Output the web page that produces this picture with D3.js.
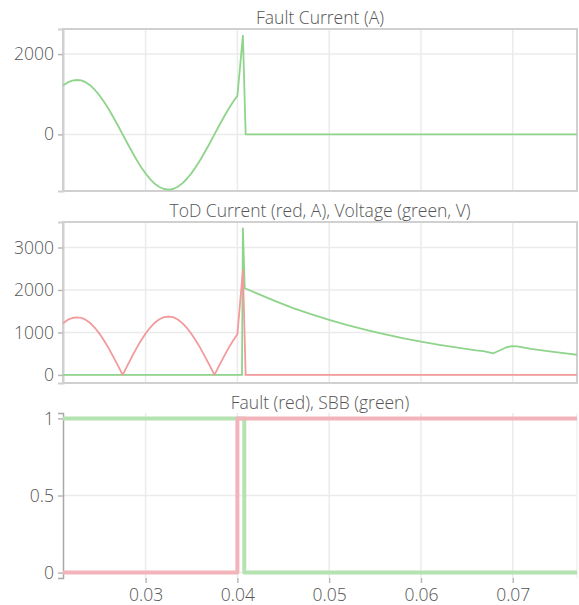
<!DOCTYPE html>
<html>
<head>
<meta charset="utf-8">
<script src="https://cdn.jsdelivr.net/npm/d3@7"></script>
<style>
  html, body { margin: 0; padding: 0; background: #fff; }
  svg { display: block; }
  text { font-family: "Open Sans", Lato, sans-serif; font-weight: 300; fill: #555; }
</style>
</head>
<body>
<svg id="chart" width="579" height="605"></svg>
<script>
// Time base (s) for the fault-current waveform and its rectified ToD copy
const waveTime = [
  0.0210, 0.0215, 0.0220, 0.0225, 0.0230, 0.0235, 0.0240, 0.0245, 0.0250, 0.0255,
  0.0260, 0.0265, 0.0270, 0.0275, 0.0280, 0.0285, 0.0290, 0.0295, 0.0300, 0.0305,
  0.0310, 0.0315, 0.0320, 0.0325, 0.0330, 0.0335, 0.0340, 0.0345, 0.0350, 0.0355,
  0.0360, 0.0365, 0.0370, 0.0375, 0.0380, 0.0385, 0.0390, 0.0395, 0.0400,
  0.0406, 0.0409, 0.0770
];
// Fault current (A)
const faultCurrent = [
  1215, 1295, 1340, 1355, 1345, 1295, 1215, 1100, 965, 800,
  620, 420, 215, 0, -215, -425, -625, -810, -975, -1115,
  -1230, -1310, -1360, -1375, -1360, -1305, -1220, -1105, -965, -800,
  -620, -420, -215, 0, 215, 420, 620, 800, 960,
  2460, 0, 0
];
// ToD current (A)
const todCurrent = [
  1215, 1295, 1340, 1355, 1345, 1295, 1215, 1100, 965, 800,
  620, 420, 215, 0, 215, 425, 625, 810, 975, 1115,
  1230, 1310, 1360, 1375, 1360, 1305, 1220, 1105, 965, 800,
  620, 420, 215, 0, 215, 420, 620, 800, 960,
  2460, 0, 0
];
// ToD voltage (V)
const voltTime = [
  0.0210, 0.0405, 0.0406, 0.0408, 0.0420, 0.0440, 0.0460, 0.0480, 0.0500, 0.0520,
  0.0540, 0.0560, 0.0580, 0.0600, 0.0620, 0.0640, 0.0660, 0.0668, 0.0679, 0.0692,
  0.0699, 0.0705, 0.0720, 0.0740, 0.0760, 0.0770
];
const voltage = [
  0, 0, 3450, 2040, 1930, 1750, 1580, 1430, 1295, 1170,
  1060, 960, 865, 785, 710, 642, 580, 560, 510, 640,
  680, 672, 612, 555, 502, 475
];
// Fault flag and SBB status (0/1)
const faultFlagTime = [0.0210, 0.0400, 0.0770];
const faultFlag = [0, 1, 1];
const sbbTime = [0.0210, 0.04075, 0.0770];
const sbb = [1, 0, 0];

// Axis ticks and titles
const xTicks = [0.03, 0.04, 0.05, 0.06, 0.07];
const ticksTop = [0, 2000];
const ticksMid = [0, 1000, 2000, 3000];
const ticksBottom = [0, 0.5, 1];
const titles = ["Fault Current (A)", "ToD Current (red, A), Voltage (green, V)", "Fault (red), SBB (green)"];

const GREEN = "#8fd48b";
const RED = "#f29a9c";
const GRID = "#ebebeb";
const FRAME = "#d0d0d0";
const FONT = 17.5;

const svg = d3.select("#chart");
const left = 63, right = 577;
const x = d3.scaleLinear().domain([0.021, 0.077]).range([left, right]);

const panels = [
  { top: 29, bottom: 191, domain: [-1410, 2625], ticks: ticksTop, title: titles[0], titleY: 24, frame: true },
  { top: 222, bottom: 383, domain: [-190, 3600], ticks: ticksMid, title: titles[1], titleY: 217, frame: true },
  { top: 413, bottom: 578, domain: [-0.035, 1.035], ticks: ticksBottom, title: titles[2], titleY: 409, frame: false }
];
panels.forEach(p => {
  p.y = d3.scaleLinear().domain(p.domain).range([p.bottom, p.top]);
  p.g = svg.append("g");
  // grid
  p.g.append("g").selectAll("line").data(xTicks).join("line")
    .attr("x1", d => x(d)).attr("x2", d => x(d))
    .attr("y1", p.top).attr("y2", p.bottom)
    .attr("stroke", GRID).attr("stroke-width", 1.5);
  p.g.append("g").selectAll("line").data(p.ticks).join("line")
    .attr("x1", left).attr("x2", right)
    .attr("y1", d => p.y(d)).attr("y2", d => p.y(d))
    .attr("stroke", GRID).attr("stroke-width", 1.5);
  if (p.frame) {
    p.g.append("rect").attr("x", left).attr("y", p.top)
      .attr("width", right - left).attr("height", p.bottom - p.top)
      .attr("fill", "none").attr("stroke", FRAME).attr("stroke-width", 2);
  } else {
    p.g.append("line").attr("x1", right).attr("x2", right)
      .attr("y1", p.top).attr("y2", p.bottom)
      .attr("stroke", "#f0f0f0").attr("stroke-width", 1.5);
  }
  // y axis
  const ax = p.g.append("g").attr("transform", `translate(${left},0)`)
    .call(d3.axisLeft(p.y).tickValues(p.ticks).tickSize(5).tickPadding(4).tickFormat(d => String(d)));
  ax.select(".domain").attr("stroke", p.frame ? FRAME : "#a8a8a8").attr("stroke-width", p.frame ? 2 : 1.5);
  ax.selectAll(".tick line").attr("stroke", "#b8b8b8").attr("stroke-width", 1.5);
  ax.selectAll(".tick text").attr("font-size", FONT).attr("fill", "#555")
    .style("font-family", null);
  // title
  svg.append("text").attr("x", (left + right) / 2).attr("y", p.titleY)
    .attr("text-anchor", "middle").attr("font-size", FONT).text(p.title);
});

function series(p, ts, vs, color, width, curve) {
  const pts = ts.map((t, i) => [t, vs[i]]);
  const line = d3.line().x(d => x(d[0])).y(d => p.y(d[1])).curve(curve || d3.curveLinear);
  p.g.append("path").datum(pts).attr("d", line)
    .attr("fill", "none").attr("stroke", color).attr("stroke-width", width)
    .attr("stroke-linejoin", "round").attr("stroke-linecap", "butt");
}

// Panel 1: fault current
series(panels[0], waveTime, faultCurrent, GREEN, 1.8);
// Panel 2: voltage then ToD current
series(panels[1], voltTime, voltage, GREEN, 1.8);
series(panels[1], waveTime, todCurrent, RED, 1.8);
// Panel 3: step signals
series(panels[2], sbbTime, sbb, "#b4e2b0", 4, d3.curveStepAfter);
series(panels[2], faultFlagTime, faultFlag, "#f2b4ba", 4, d3.curveStepAfter);

// x axis under the bottom panel
const xa = svg.append("g").attr("transform", `translate(0,${panels[2].bottom})`)
  .call(d3.axisBottom(x).tickValues(xTicks).tickSize(5).tickPadding(6).tickFormat(d => String(d)));
xa.select(".domain").remove();
xa.selectAll(".tick line").attr("stroke", "#b8b8b8").attr("stroke-width", 1.5);
xa.selectAll(".tick text").attr("font-size", FONT).attr("fill", "#555");
</script>
</body>
</html>
